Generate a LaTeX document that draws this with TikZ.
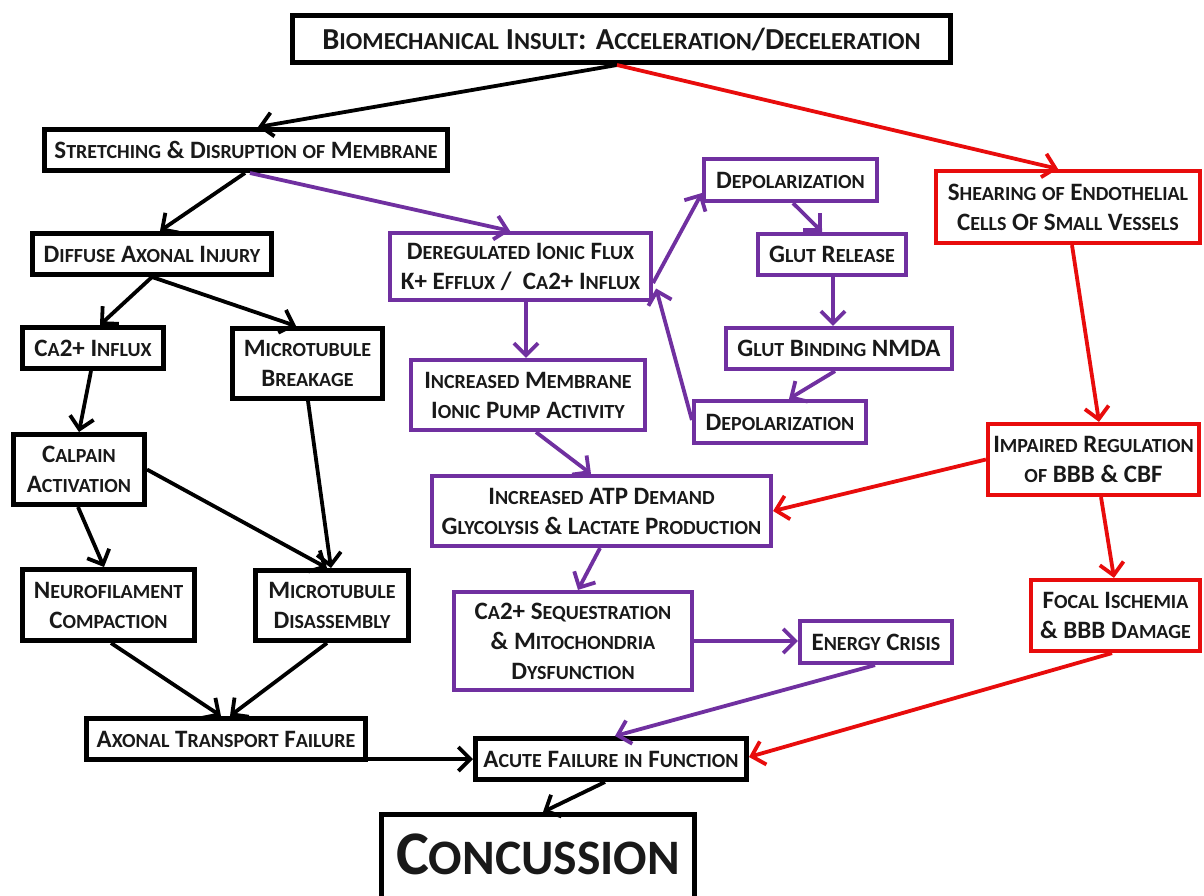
\documentclass[tikz,border=0pt]{standalone}
\usepackage{fontspec}
\setmainfont{Carlito}
\usepackage{graphicx}
\usetikzlibrary{arrows.meta,calc}

\definecolor{pathpurple}{RGB}{112,48,160}
\definecolor{pathred}{RGB}{232,12,12}

% small capitals built from scaled upper-case letters
\newcommand\sm[1]{\scalebox{0.8}{#1}}

\tikzset{
  box/.style={draw=black, line width=5pt, fill=white, inner sep=0pt, align=center,
    font=\bfseries\fontsize{25}{30}\selectfont, text=black!90},
  pbox/.style={box, draw=pathpurple, line width=4.2pt},
  rbox/.style={box, draw=pathred, line width=4.2pt},
  arr/.style={line width=3.8pt, -{Straight Barb[length=12pt,width=24pt,line width=3.8pt]}},
  karr/.style={arr, draw=black},
  parr/.style={arr, draw=pathpurple},
  rarr/.style={arr, draw=pathred},
}

\begin{document}
\begin{tikzpicture}[x=1pt,y=-1pt]
\useasboundingbox (0,0) rectangle (1204,896);
\fill[white] (0,0) rectangle (1204,896);

% ---- nodes ----
\node[box, minimum width=658, minimum height=47, font=\bfseries\fontsize{30.5}{34}\selectfont] (top) at (621.5,39)
  {B\sm{IOMECHANICAL} I\sm{NSULT}: A\sm{CCELERATION}/D\sm{ECELERATION}};
\node[box, minimum width=403, minimum height=41] (stretch) at (246,150)
  {S\sm{TRETCHING} \& D\sm{ISRUPTION} \sm{OF} M\sm{EMBRANE}};
\node[box, minimum width=239, minimum height=41] (diffuse) at (152,254)
  {D\sm{IFFUSE} A\sm{XONAL} I\sm{NJURY}};
\node[box, minimum width=141, minimum height=41] (ca2) at (93,348)
  {C\sm{A}2+ I\sm{NFLUX}};
\node[box, minimum width=150, minimum height=70] (mtb) at (307.5,363.5)
  {M\sm{ICROTUBULE}\\B\sm{REAKAGE}};
\node[box, minimum width=131, minimum height=70] (calpain) at (79,469.5)
  {C\sm{ALPAIN}\\A\sm{CTIVATION}};
\node[box, minimum width=172, minimum height=71] (neuro) at (108.5,605)
  {N\sm{EUROFILAMENT}\\C\sm{OMPACTION}};
\node[box, minimum width=153, minimum height=70] (mtd) at (332,605.5)
  {M\sm{ICROTUBULE}\\D\sm{ISASSEMBLY}};
\node[box, minimum width=279, minimum height=41] (axonal) at (226,739)
  {A\sm{XONAL} T\sm{RANSPORT} F\sm{AILURE}};
\node[box, minimum width=271, minimum height=41] (acute) at (611,759)
  {A\sm{CUTE} F\sm{AILURE} \sm{IN} F\sm{UNCTION}};
\node[box, anchor=north, minimum width=313, inner ysep=0pt, text height=60pt, text depth=60pt,
  font=\bfseries\fontsize{62}{70}\selectfont] (conc) at (538,812)
  {C\sm{ONCUSSION}};

\node[pbox, minimum width=261, minimum height=67] (dereg) at (520.5,266.5)
  {D\sm{EREGULATED} I\sm{ONIC} F\sm{LUX}\\K+ E\sm{FFLUX} /\ \ C\sm{A}2+ I\sm{NFLUX}};
\node[pbox, minimum width=234, minimum height=70] (pump) at (528,395)
  {I\sm{NCREASED} M\sm{EMBRANE}\\I\sm{ONIC} P\sm{UMP} A\sm{CTIVITY}};
\node[pbox, minimum width=339, minimum height=70] (atp) at (601.5,511)
  {I\sm{NCREASED} ATP D\sm{EMAND}\\G\sm{LYCOLYSIS} \& L\sm{ACTATE} P\sm{RODUCTION}};
\node[pbox, minimum width=238, minimum height=98] (seq) at (573,641)
  {C\sm{A}2+ S\sm{EQUESTRATION}\\\& M\sm{ITOCHONDRIA}\\D\sm{YSFUNCTION}};
\node[pbox, minimum width=152, minimum height=42] (energy) at (876,642)
  {E\sm{NERGY} C\sm{RISIS}};
\node[pbox, minimum width=173, minimum height=42] (depolA) at (790.5,180)
  {D\sm{EPOLARIZATION}};
\node[pbox, minimum width=148, minimum height=41] (glutrel) at (832,254.5)
  {G\sm{LUT} R\sm{ELEASE}};
\node[pbox, minimum width=226, minimum height=41] (glutbind) at (839,348.5)
  {G\sm{LUT} B\sm{INDING} NMDA};
\node[pbox, minimum width=172, minimum height=42] (depolB) at (780,422)
  {D\sm{EPOLARIZATION}};

\node[rbox, minimum width=264, minimum height=72] (shear) at (1068,207)
  {S\sm{HEARING} \sm{OF} E\sm{NDOTHELIAL}\\C\sm{ELLS} O\sm{F} S\sm{MALL} V\sm{ESSELS}};
\node[rbox, minimum width=211, minimum height=71] (impaired) at (1093.5,459.5)
  {I\sm{MPAIRED} R\sm{EGULATION}\\\sm{OF} BBB \& CBF};
\node[rbox, minimum width=169, minimum height=71] (focal) at (1115.5,615.5)
  {F\sm{OCAL} I\sm{SCHEMIA}\\\& BBB D\sm{AMAGE}};

% ---- black pathway ----
\draw[karr] ([xshift=-4.5pt]top.south) -- ([xshift=12pt]stretch.north);
\draw[karr] ([xshift=-1pt]stretch.south) -- ([xshift=8pt]diffuse.north);
\draw[karr] (diffuse.south) -- ([xshift=7pt]ca2.north);
\draw[karr] (diffuse.south) -- ([xshift=-11.5pt]mtb.north);
\draw[karr] ([xshift=-2pt]ca2.south) -- (calpain.north);
\draw[karr] ([xshift=-1pt]calpain.south) -- ([xshift=-4.5pt]neuro.north);
\draw[karr] (calpain.east) -- ([xshift=-5pt]mtd.north);
\draw[karr] ([xshift=0.5pt]mtb.south) -- ([xshift=-1pt]mtd.north);
\draw[karr] ([xshift=2.5pt]neuro.south) -- ([xshift=-5pt]axonal.north);
\draw[karr] ([xshift=-5pt]mtd.south) -- ([xshift=4pt]axonal.north);
\draw[karr] (acute.west -| axonal.east) -- (acute.west);
\draw[karr] ([xshift=-6pt]acute.south) -- ([xshift=5pt]conc.north);

% ---- purple pathway ----
\draw[parr] ([xshift=4pt]stretch.south) -- ([xshift=-10.5pt]dereg.north);
\draw[parr] ([xshift=5.5pt]dereg.south) -- ([xshift=-2pt]pump.north);
\draw[parr] ([yshift=-16.5pt]dereg.east) -- ([yshift=-13pt]depolA.west);
\draw[parr] ([yshift=2pt]depolB.west) -- ([xshift=3pt,yshift=-22pt]dereg.east);
\draw[parr] ([xshift=2.5pt]depolA.south) -- ([xshift=-10pt]glutrel.north);
\draw[parr] ([xshift=1pt]glutrel.south) -- ([xshift=-6pt]glutbind.north);
\draw[parr] ([xshift=-4pt]glutbind.south) -- ([xshift=9pt]depolB.north);
\draw[parr] ([xshift=8pt]pump.south) -- ([xshift=-10.5pt]atp.north);
\draw[parr] ([xshift=-1.5pt]atp.south) -- ([xshift=5pt]seq.north);
\draw[parr] (seq.east) -- (energy.west |- seq.east);
\draw[parr] ([xshift=-1pt]energy.south) -- ([xshift=4pt]acute.north);

% ---- red pathway ----
\draw[rarr] ([xshift=-4.5pt]top.south) -- ([xshift=-10pt]shear.north);
\draw[rarr] ([xshift=4pt]shear.south) -- ([xshift=5.5pt]impaired.north);
\draw[rarr] (impaired.west) -- (atp.east);
\draw[rarr] ([xshift=7.5pt]impaired.south) -- ([xshift=-1.5pt]focal.north);
\draw[rarr] ([xshift=-3.5pt]focal.south) -- ([yshift=2pt]acute.east);
\end{tikzpicture}
\end{document}
